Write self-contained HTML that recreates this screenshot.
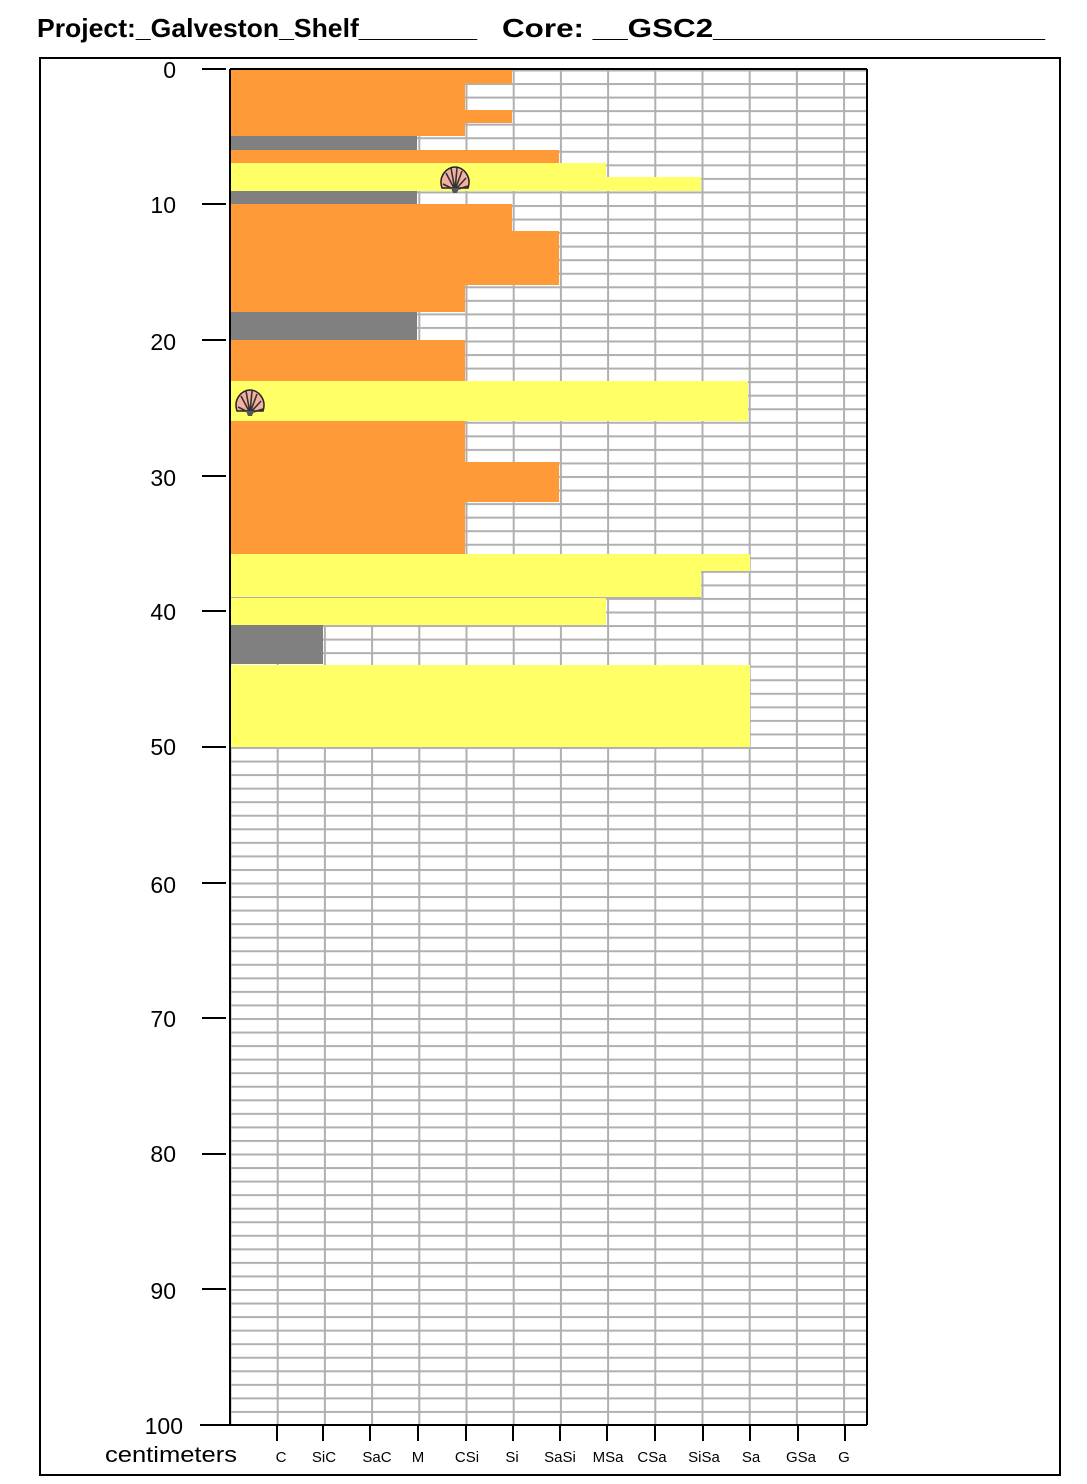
<!DOCTYPE html>
<html><head><meta charset="utf-8"><style>
html,body{margin:0;padding:0;background:#fff;}
svg{display:block;font-family:"Liberation Sans",Arial,sans-serif;}
</style></head><body>
<svg width="1087" height="1484" viewBox="0 0 1087 1484" xmlns="http://www.w3.org/2000/svg">
<defs>
<pattern id="g" x="229.5" y="69.5" width="47.2" height="13.55" patternUnits="userSpaceOnUse">
<rect x="0" y="0" width="47.2" height="2" fill="#b0b0b0"/>
<rect x="0" y="0" width="2" height="13.55" fill="#b0b0b0"/>
</pattern>
<g id="shell">
<path d="M-13,8 C-17,-4 -8,-13 0,-13 C8,-13 17,-4 13,8 Z" fill="#f4b0a0" stroke="#222" stroke-width="1.5"/>
<path d="M0,10 L-12,4 M0,10 L-9,-7 M0,10 L-4,-12 M0,10 L2,-12 M0,10 L7,-9 M0,10 L11,-2 M0,10 L13,6" stroke="#333" stroke-width="1.6"/>
<path d="M-4,8 L4,8 L2,13 L-2,13 Z" fill="#555"/>
</g>
</defs>
<text x="37" y="37" font-size="26" font-weight="bold" textLength="440" lengthAdjust="spacingAndGlyphs">Project:_Galveston_Shelf________</text>
<text x="502" y="37" font-size="26" font-weight="bold" textLength="543" lengthAdjust="spacingAndGlyphs">Core: __GSC2___________________</text>
<rect x="40" y="58" width="1020" height="1417" fill="none" stroke="#000" stroke-width="2"/>
<rect x="230" y="70" width="637" height="1355" fill="url(#g)"/>
<g>
<rect x="230" y="70" width="282" height="13.5" fill="#ff9a38"/>
<rect x="230" y="83" width="235" height="53" fill="#ff9a38"/>
<rect x="230" y="110" width="282" height="13" fill="#ff9a38"/>
<rect x="230" y="136" width="187" height="14" fill="#808080"/>
<rect x="230" y="150" width="329" height="13" fill="#ff9a38"/>
<rect x="230" y="163" width="376" height="28" fill="#ffff66"/>
<rect x="230" y="177" width="471" height="14" fill="#ffff66"/>
<rect x="230" y="191" width="187" height="13" fill="#808080"/>
<rect x="230" y="204" width="282" height="27" fill="#ff9a38"/>
<rect x="230" y="231" width="329" height="54" fill="#ff9a38"/>
<rect x="230" y="285" width="235" height="27" fill="#ff9a38"/>
<rect x="230" y="312" width="187" height="28" fill="#808080"/>
<rect x="230" y="340" width="235" height="41" fill="#ff9a38"/>
<rect x="230" y="381" width="518" height="40" fill="#ffff66"/>
<rect x="230" y="421" width="235" height="41" fill="#ff9a38"/>
<rect x="230" y="462" width="329" height="40" fill="#ff9a38"/>
<rect x="230" y="502" width="235" height="52" fill="#ff9a38"/>
<rect x="230" y="554" width="520" height="17" fill="#ffff66"/>
<rect x="230" y="571" width="471" height="26" fill="#ffff66"/>
<line x1="230" y1="597.5" x2="701" y2="597.5" stroke="#b0b0b0" stroke-width="1"/>
<rect x="230" y="598" width="376" height="27" fill="#ffff66"/>
<rect x="230" y="625" width="93" height="39" fill="#808080"/>
<rect x="230" y="665" width="520" height="82" fill="#ffff66"/>
</g>
<use href="#shell" x="455" y="180"/>
<use href="#shell" x="250" y="403"/>
<line x1="230" y1="69" x2="867" y2="69" stroke="#000" stroke-width="2"/>
<line x1="230" y1="69" x2="230" y2="1425" stroke="#000" stroke-width="2"/>
<line x1="867" y1="69" x2="867" y2="1425" stroke="#000" stroke-width="2"/>
<line x1="200" y1="1425" x2="867" y2="1425" stroke="#000" stroke-width="2"/>
<g stroke="#000" stroke-width="2">
<line x1="202" y1="69" x2="226" y2="69"/><line x1="202" y1="204" x2="226" y2="204"/>
<line x1="202" y1="340" x2="226" y2="340"/><line x1="202" y1="476" x2="226" y2="476"/>
<line x1="202" y1="611" x2="226" y2="611"/><line x1="202" y1="747" x2="226" y2="747"/>
<line x1="202" y1="883" x2="226" y2="883"/><line x1="202" y1="1018" x2="226" y2="1018"/>
<line x1="202" y1="1154" x2="226" y2="1154"/><line x1="202" y1="1289" x2="226" y2="1289"/>
<line x1="277" y1="1425" x2="277" y2="1441"/><line x1="323" y1="1425" x2="323" y2="1441"/>
<line x1="370" y1="1425" x2="370" y2="1441"/><line x1="418" y1="1425" x2="418" y2="1441"/>
<line x1="466" y1="1425" x2="466" y2="1441"/><line x1="513" y1="1425" x2="513" y2="1441"/>
<line x1="560" y1="1425" x2="560" y2="1441"/><line x1="607" y1="1425" x2="607" y2="1441"/>
<line x1="655" y1="1425" x2="655" y2="1441"/><line x1="703" y1="1425" x2="703" y2="1441"/>
<line x1="750" y1="1425" x2="750" y2="1441"/><line x1="798" y1="1425" x2="798" y2="1441"/>
<line x1="845" y1="1425" x2="845" y2="1441"/>
</g>
<g font-size="23" text-anchor="end">
<text x="176" y="78">0</text><text x="176" y="213">10</text><text x="176" y="350">20</text>
<text x="176" y="486">30</text><text x="176" y="620">40</text><text x="176" y="755">50</text>
<text x="176" y="893">60</text><text x="176" y="1027">70</text><text x="176" y="1162">80</text>
<text x="176" y="1299">90</text><text x="183" y="1434">100</text>
</g>
<text x="105" y="1462" font-size="22" textLength="132" lengthAdjust="spacingAndGlyphs">centimeters</text>
<g font-size="15" text-anchor="middle">
<text x="281" y="1462">C</text><text x="324" y="1462">SiC</text><text x="377" y="1462">SaC</text>
<text x="418" y="1462">M</text><text x="467" y="1462">CSi</text><text x="512" y="1462">Si</text>
<text x="560" y="1462">SaSi</text><text x="608" y="1462">MSa</text><text x="652" y="1462">CSa</text>
<text x="704" y="1462">SiSa</text><text x="751" y="1462">Sa</text><text x="801" y="1462">GSa</text>
<text x="844" y="1462">G</text>
</g>
</svg>
</body></html>
